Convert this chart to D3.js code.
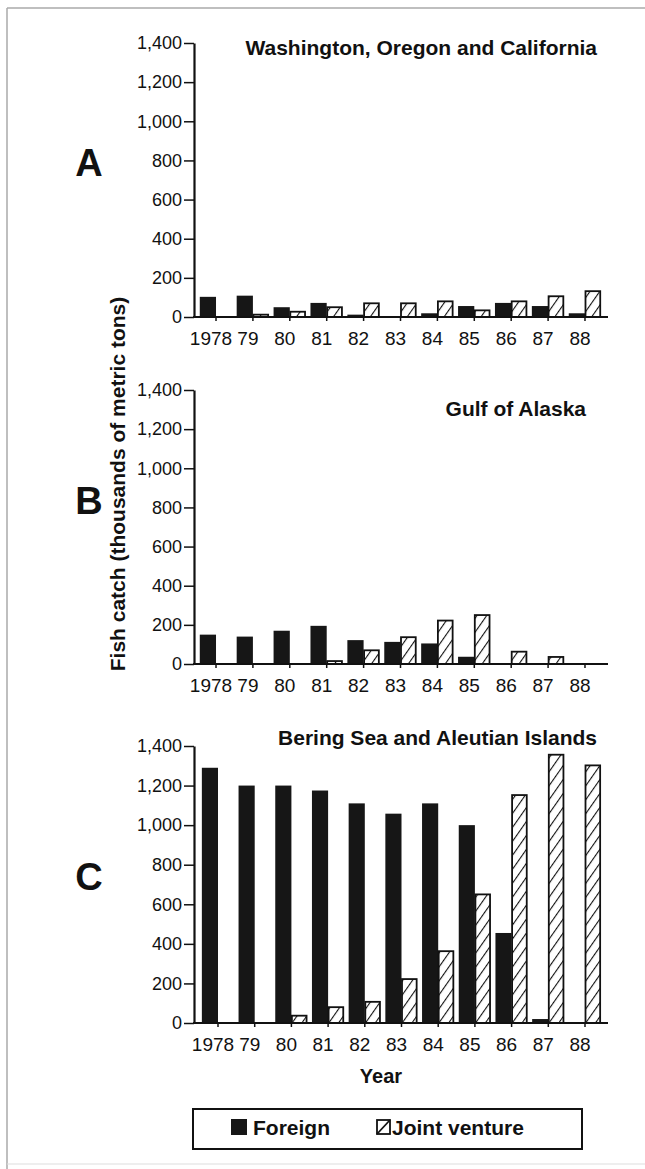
<!DOCTYPE html>
<html><head><meta charset="utf-8">
<script src="https://cdn.jsdelivr.net/npm/d3@7"></script>
<style>
body{margin:0;background:#fff;}
svg{display:block;}
text{font-family:"Liberation Sans",Arial,Helvetica,sans-serif;fill:#111;}
</style></head>
<body>
<svg id="chart" width="645" height="1169"></svg>
<script>
const years = ["1978","79","80","81","82","83","84","85","86","87","88"];
const yTicks = [0,200,400,600,800,1000,1200,1400];
const titles = ["Washington, Oregon and California","Gulf of Alaska","Bering Sea and Aleutian Islands"];
const panelLetters = ["A","B","C"];
const foreignA = [103,109,50,72,12,0,19,56,72,56,19];
const jointA   = [0,12,27,50,70,70,80,34,80,106,132];
const foreignB = [150,140,170,195,122,113,105,37,2,0,0];
const jointB   = [0,0,0,15,70,137,222,250,63,36,0];
const foreignC = [1290,1200,1200,1175,1110,1058,1110,1000,455,20,0];
const jointC   = [0,0,37,80,107,222,363,650,1152,1356,1302];
const seriesNames = ["Foreign","Joint venture"];

const svg = d3.select("#chart");
const defs = svg.append("defs");
defs.append("pattern").attr("id","hatch").attr("patternUnits","userSpaceOnUse")
  .attr("width",8).attr("height",8).attr("patternTransform","rotate(35)")
  .call(p=>{
    p.append("rect").attr("width",8).attr("height",8).attr("fill","#fff");
    p.append("line").attr("x1",0).attr("y1",0).attr("x2",0).attr("y2",8)
      .attr("stroke","#111").attr("stroke-width",2.2);
  });

svg.append("line").attr("x1",7).attr("y1",8).attr("x2",645).attr("y2",8).attr("stroke","#aaa").attr("stroke-width",1.5);
svg.append("line").attr("x1",7).attr("y1",8).attr("x2",7).attr("y2",1169).attr("stroke","#aaa").attr("stroke-width",1.5);
svg.append("line").attr("x1",7).attr("y1",1164).attr("x2",645).attr("y2",1164).attr("stroke","#ddd").attr("stroke-width",1);

const panels = [
  {foreign:foreignA, joint:jointA, base:317, h:274, t0:214, step:37.3, titleY:55, titleX:597, letterY:176},
  {foreign:foreignB, joint:jointB, base:664, h:274, t0:214, step:37.3, titleY:416, titleX:586, letterY:514},
  {foreign:foreignC, joint:jointC, base:1023, h:277, t0:216, step:37.1, titleY:745, titleX:597, letterY:890}
];
const axisX = 194, axisEnd = 608;

panels.forEach((p,i)=>{
  const g = svg.append("g");
  const y = d3.scaleLinear().domain([0,1400]).range([p.base, p.base-p.h]);
  const x = d3.scaleBand().domain(years)
    .range([p.t0 - p.step/2, p.t0 + (years.length-0.5)*p.step]).padding(0.12);
  const xs = d3.scaleBand().domain(seriesNames).range([0, x.bandwidth()]);
  const data = years.map((yr,k)=>({yr, vals:[p.foreign[k], p.joint[k]]}));

  const grp = g.selectAll("g.yr").data(data).join("g")
    .attr("transform", d=>`translate(${x(d.yr)},0)`);
  grp.selectAll("rect").data(d=>d.vals.map((v,s)=>({v,s}))).join("rect")
    .attr("x", d=>xs(seriesNames[d.s]) + (d.s===1?0.5:0))
    .attr("width", d=> xs.bandwidth() - (d.s===1?1.5:0))
    .attr("y", d=>y(d.v))
    .attr("height", d=>p.base - y(d.v))
    .attr("fill", d=> d.s===0 ? "#161616" : "url(#hatch)")
    .attr("stroke", d=> d.s===0 ? "none" : "#111")
    .attr("stroke-width", 1.8);

  const ya = g.append("g").attr("transform",`translate(${axisX},0)`)
    .call(d3.axisLeft(y).tickValues(yTicks).tickFormat(d3.format(",")).tickSize(10).tickSizeOuter(0).tickPadding(2));
  ya.select(".domain").attr("stroke","#111").attr("stroke-width",2.2);
  ya.selectAll(".tick line").attr("stroke","#111").attr("stroke-width",1.5);
  ya.selectAll(".tick text").attr("font-size",18).attr("fill","#111");

  const xa = g.append("g").attr("transform",`translate(0,${p.base})`)
    .call(d3.axisBottom(x).tickSize(4).tickPadding(10.5).tickSizeOuter(0));
  xa.select(".domain").remove();
  xa.selectAll(".tick line").attr("stroke","#111").attr("stroke-width",1.5);
  xa.selectAll(".tick text").attr("font-size",19).attr("x",-5).attr("fill","#111");
  g.append("line").attr("x1",axisX-1).attr("x2",axisEnd).attr("y1",p.base).attr("y2",p.base)
    .attr("stroke","#111").attr("stroke-width",2);

  g.append("text").attr("x",p.titleX).attr("y",p.titleY).attr("text-anchor","end")
    .attr("font-size",21).attr("font-weight","bold").text(titles[i]);
  g.append("text").attr("x",89).attr("y",p.letterY).attr("text-anchor","middle")
    .attr("font-size",38).attr("font-weight","bold").text(panelLetters[i]);
});

svg.append("text").attr("transform","translate(125,484) rotate(-90)")
  .attr("text-anchor","middle").attr("font-size",21).attr("font-weight","bold")
  .text("Fish catch (thousands of metric tons)");
svg.append("text").attr("x",381).attr("y",1083).attr("text-anchor","middle")
  .attr("font-size",20).attr("font-weight","bold").text("Year");

const lg = svg.append("g");
lg.append("rect").attr("x",193).attr("y",1109).attr("width",389).attr("height",40)
  .attr("fill","#fff").attr("stroke","#111").attr("stroke-width",2);
lg.append("rect").attr("x",231).attr("y",1119).attr("width",16).attr("height",16).attr("fill","#161616");
lg.append("text").attr("x",253).attr("y",1135).attr("font-size",21).attr("font-weight","bold").text(seriesNames[0]);
lg.append("rect").attr("x",377).attr("y",1120).attr("width",13).attr("height",14)
  .attr("fill","#fff").attr("stroke","#111").attr("stroke-width",1.8);
lg.append("line").attr("x1",377).attr("y1",1134).attr("x2",390).attr("y2",1120).attr("stroke","#111").attr("stroke-width",1.8);
lg.append("text").attr("x",392).attr("y",1135).attr("font-size",21).attr("font-weight","bold").text(seriesNames[1]);
</script>
</body></html>
